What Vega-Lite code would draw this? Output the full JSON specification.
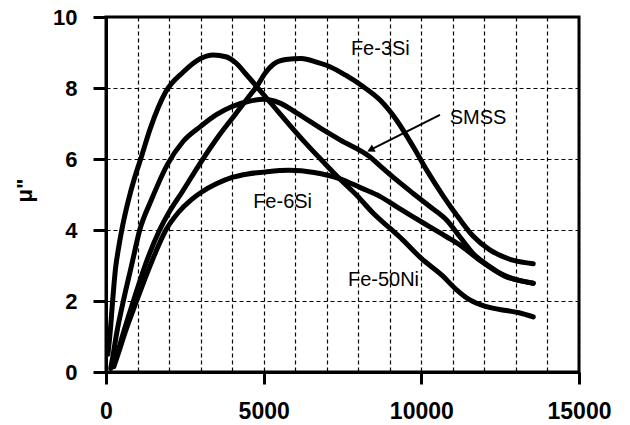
{
  "$schema": "https://vega.github.io/schema/vega-lite/v6.json",
  "width": 473,
  "height": 355,
  "autosize": {"type": "none"},
  "padding": {"left": 106, "top": 17, "right": 51, "bottom": 53},
  "background": "white",
  "config": {
    "view": {"stroke": "black", "strokeWidth": 3},
    "font": "Liberation Sans"
  },
  "datasets": {
    "curves": [
      {"s": "Fe-50Ni", "x": 60, "y": 0.5}, {"s": "Fe-50Ni", "x": 130, "y": 1.1}, {"s": "Fe-50Ni", "x": 210, "y": 2.0}, {"s": "Fe-50Ni", "x": 300, "y": 2.9}, {"s": "Fe-50Ni", "x": 400, "y": 3.5}, {"s": "Fe-50Ni", "x": 500, "y": 4.0}, {"s": "Fe-50Ni", "x": 700, "y": 4.8}, {"s": "Fe-50Ni", "x": 900, "y": 5.45}, {"s": "Fe-50Ni", "x": 1100, "y": 6.0}, {"s": "Fe-50Ni", "x": 1400, "y": 6.85}, {"s": "Fe-50Ni", "x": 1900, "y": 7.9}, {"s": "Fe-50Ni", "x": 2450, "y": 8.45}, {"s": "Fe-50Ni", "x": 3000, "y": 8.83}, {"s": "Fe-50Ni", "x": 3400, "y": 8.93}, {"s": "Fe-50Ni", "x": 3800, "y": 8.88}, {"s": "Fe-50Ni", "x": 4100, "y": 8.72}, {"s": "Fe-50Ni", "x": 4450, "y": 8.38}, {"s": "Fe-50Ni", "x": 4800, "y": 8.02}, {"s": "Fe-50Ni", "x": 5300, "y": 7.5}, {"s": "Fe-50Ni", "x": 5830, "y": 6.95}, {"s": "Fe-50Ni", "x": 6360, "y": 6.42}, {"s": "Fe-50Ni", "x": 6890, "y": 5.92}, {"s": "Fe-50Ni", "x": 7400, "y": 5.45}, {"s": "Fe-50Ni", "x": 7950, "y": 4.98}, {"s": "Fe-50Ni", "x": 8500, "y": 4.45}, {"s": "Fe-50Ni", "x": 9000, "y": 4.05}, {"s": "Fe-50Ni", "x": 9400, "y": 3.73}, {"s": "Fe-50Ni", "x": 10000, "y": 3.2}, {"s": "Fe-50Ni", "x": 10660, "y": 2.72}, {"s": "Fe-50Ni", "x": 11100, "y": 2.33}, {"s": "Fe-50Ni", "x": 11540, "y": 2.03}, {"s": "Fe-50Ni", "x": 12070, "y": 1.84}, {"s": "Fe-50Ni", "x": 12700, "y": 1.73}, {"s": "Fe-50Ni", "x": 13100, "y": 1.67}, {"s": "Fe-50Ni", "x": 13550, "y": 1.55},

      {"s": "SMSS", "x": 150, "y": 0.1}, {"s": "SMSS", "x": 220, "y": 0.45}, {"s": "SMSS", "x": 340, "y": 1.1}, {"s": "SMSS", "x": 550, "y": 2.0}, {"s": "SMSS", "x": 810, "y": 3.0}, {"s": "SMSS", "x": 1070, "y": 4.0}, {"s": "SMSS", "x": 1440, "y": 4.85}, {"s": "SMSS", "x": 1950, "y": 5.85}, {"s": "SMSS", "x": 2450, "y": 6.5}, {"s": "SMSS", "x": 3000, "y": 6.92}, {"s": "SMSS", "x": 3500, "y": 7.25}, {"s": "SMSS", "x": 4000, "y": 7.48}, {"s": "SMSS", "x": 4500, "y": 7.62}, {"s": "SMSS", "x": 5000, "y": 7.68}, {"s": "SMSS", "x": 5500, "y": 7.58}, {"s": "SMSS", "x": 6040, "y": 7.3}, {"s": "SMSS", "x": 6890, "y": 6.82}, {"s": "SMSS", "x": 7420, "y": 6.54}, {"s": "SMSS", "x": 8370, "y": 6.06}, {"s": "SMSS", "x": 8700, "y": 5.8}, {"s": "SMSS", "x": 9210, "y": 5.41}, {"s": "SMSS", "x": 9740, "y": 5.03}, {"s": "SMSS", "x": 10270, "y": 4.66}, {"s": "SMSS", "x": 10800, "y": 4.28}, {"s": "SMSS", "x": 11220, "y": 3.81}, {"s": "SMSS", "x": 11640, "y": 3.34}, {"s": "SMSS", "x": 12170, "y": 2.97}, {"s": "SMSS", "x": 12700, "y": 2.68}, {"s": "SMSS", "x": 13100, "y": 2.58}, {"s": "SMSS", "x": 13550, "y": 2.5},

      {"s": "Fe-3Si", "x": 200, "y": 0.15}, {"s": "Fe-3Si", "x": 350, "y": 0.5}, {"s": "Fe-3Si", "x": 550, "y": 1.1}, {"s": "Fe-3Si", "x": 870, "y": 2.0}, {"s": "Fe-3Si", "x": 1240, "y": 3.0}, {"s": "Fe-3Si", "x": 1700, "y": 4.0}, {"s": "Fe-3Si", "x": 2000, "y": 4.5}, {"s": "Fe-3Si", "x": 2400, "y": 5.05}, {"s": "Fe-3Si", "x": 3000, "y": 5.9}, {"s": "Fe-3Si", "x": 3550, "y": 6.62}, {"s": "Fe-3Si", "x": 4050, "y": 7.2}, {"s": "Fe-3Si", "x": 4480, "y": 7.7}, {"s": "Fe-3Si", "x": 4800, "y": 8.07}, {"s": "Fe-3Si", "x": 5050, "y": 8.42}, {"s": "Fe-3Si", "x": 5300, "y": 8.66}, {"s": "Fe-3Si", "x": 5700, "y": 8.8}, {"s": "Fe-3Si", "x": 6200, "y": 8.83}, {"s": "Fe-3Si", "x": 6700, "y": 8.72}, {"s": "Fe-3Si", "x": 7100, "y": 8.6}, {"s": "Fe-3Si", "x": 7600, "y": 8.36}, {"s": "Fe-3Si", "x": 8150, "y": 8.04}, {"s": "Fe-3Si", "x": 8690, "y": 7.66}, {"s": "Fe-3Si", "x": 9210, "y": 7.1}, {"s": "Fe-3Si", "x": 9740, "y": 6.35}, {"s": "Fe-3Si", "x": 10160, "y": 5.7}, {"s": "Fe-3Si", "x": 10700, "y": 4.95}, {"s": "Fe-3Si", "x": 11220, "y": 4.3}, {"s": "Fe-3Si", "x": 11640, "y": 3.83}, {"s": "Fe-3Si", "x": 12170, "y": 3.44}, {"s": "Fe-3Si", "x": 12900, "y": 3.15}, {"s": "Fe-3Si", "x": 13550, "y": 3.05},

      {"s": "Fe-6Si", "x": 250, "y": 0.15}, {"s": "Fe-6Si", "x": 400, "y": 0.55}, {"s": "Fe-6Si", "x": 600, "y": 1.1}, {"s": "Fe-6Si", "x": 970, "y": 2.0}, {"s": "Fe-6Si", "x": 1400, "y": 3.0}, {"s": "Fe-6Si", "x": 1900, "y": 4.0}, {"s": "Fe-6Si", "x": 2300, "y": 4.5}, {"s": "Fe-6Si", "x": 2700, "y": 4.85}, {"s": "Fe-6Si", "x": 3000, "y": 5.05}, {"s": "Fe-6Si", "x": 3500, "y": 5.3}, {"s": "Fe-6Si", "x": 4000, "y": 5.48}, {"s": "Fe-6Si", "x": 4500, "y": 5.58}, {"s": "Fe-6Si", "x": 5000, "y": 5.63}, {"s": "Fe-6Si", "x": 5800, "y": 5.68}, {"s": "Fe-6Si", "x": 6600, "y": 5.62}, {"s": "Fe-6Si", "x": 7400, "y": 5.45}, {"s": "Fe-6Si", "x": 8100, "y": 5.18}, {"s": "Fe-6Si", "x": 8700, "y": 4.94}, {"s": "Fe-6Si", "x": 9210, "y": 4.66}, {"s": "Fe-6Si", "x": 9740, "y": 4.37}, {"s": "Fe-6Si", "x": 10270, "y": 4.09}, {"s": "Fe-6Si", "x": 10800, "y": 3.81}, {"s": "Fe-6Si", "x": 11220, "y": 3.58}, {"s": "Fe-6Si", "x": 11850, "y": 3.15}, {"s": "Fe-6Si", "x": 12490, "y": 2.78}, {"s": "Fe-6Si", "x": 13000, "y": 2.6}, {"s": "Fe-6Si", "x": 13550, "y": 2.5}
    ],
    "labels": [
      {"t": "Fe-3Si", "x": 8700, "y": 9.1},
      {"t": "SMSS", "x": 11800, "y": 7.15},
      {"t": "Fe-6Si", "x": 5600, "y": 4.8},
      {"t": "Fe-50Ni", "x": 8800, "y": 2.6}
    ],
    "arrow": [
      {"x": 10590, "y": 7.24, "x2": 8350, "y2": 6.24}
    ],
    "head": [
      {"x": 8390, "y": 6.26}
    ]
  },
  "encoding": {
    "x": {
      "field": "x", "type": "quantitative",
      "scale": {"domain": [0, 15000], "nice": false, "zero": true},
      "axis": {
        "title": null,
        "values": [0, 1000, 2000, 3000, 4000, 5000, 6000, 7000, 8000, 9000, 10000, 11000, 12000, 13000, 14000, 15000],
        "format": "d",
        "labelExpr": "datum.value % 5000 === 0 ? datum.label : ''",
        "grid": true,
        "gridColor": "black",
        "gridDash": [4, 3],
        "gridWidth": 1.2,
        "gridOpacity": 1,
        "domainColor": "black",
        "domainWidth": 3,
        "tickColor": "black",
        "tickWidth": 3,
        "tickSize": 12,
        "tickOpacity": {"condition": {"test": "datum.value % 5000 === 0", "value": 1}, "value": 0},
        "labelFont": "Liberation Sans",
        "labelFontSize": 23,
        "labelFontWeight": "bold",
        "labelColor": "black",
        "labelPadding": 16,
        "labelFlush": false,
        "labelOverlap": false
      }
    },
    "y": {
      "field": "y", "type": "quantitative",
      "scale": {"domain": [0, 10], "nice": false},
      "axis": {
        "title": "μ\"",
        "values": [0, 2, 4, 6, 8, 10],
        "grid": true,
        "gridColor": "black",
        "gridDash": [4, 3],
        "gridWidth": 1.2,
        "gridOpacity": 1,
        "domainColor": "black",
        "domainWidth": 3,
        "tickColor": "black",
        "tickWidth": 3,
        "tickSize": 13,
        "labelFont": "Liberation Sans",
        "labelFontSize": 22,
        "labelFontWeight": "bold",
        "labelColor": "black",
        "labelPadding": 16,
        "labelFlush": false,
        "titleFont": "Liberation Sans",
        "titleFontSize": 22,
        "titleFontWeight": "bold",
        "titleColor": "black",
        "titleAngle": -90,
        "titleAlign": "center",
        "titleBaseline": "alphabetic",
        "titleX": -75,
        "titleY": 173
      }
    }
  },
  "layer": [
    {
      "data": {"name": "curves"},
      "mark": {"type": "line", "color": "black", "strokeWidth": 5, "interpolate": "monotone", "strokeCap": "round", "strokeJoin": "round"},
      "encoding": {
        "detail": {"field": "s", "type": "nominal"}
      }
    },
    {
      "data": {"name": "labels"},
      "mark": {"type": "text", "font": "Liberation Sans", "fontSize": 20, "color": "black", "align": "center", "baseline": "middle"},
      "encoding": {
        "text": {"field": "t"}
      }
    },
    {
      "data": {"name": "arrow"},
      "mark": {"type": "rule", "color": "black", "strokeWidth": 2},
      "encoding": {
        "x2": {"field": "x2"},
        "y2": {"field": "y2"}
      }
    },
    {
      "data": {"name": "head"},
      "mark": {"type": "point", "shape": "triangle-up", "filled": true, "color": "black", "size": 70, "angle": 243, "opacity": 1},
      "encoding": {}
    }
  ]
}
